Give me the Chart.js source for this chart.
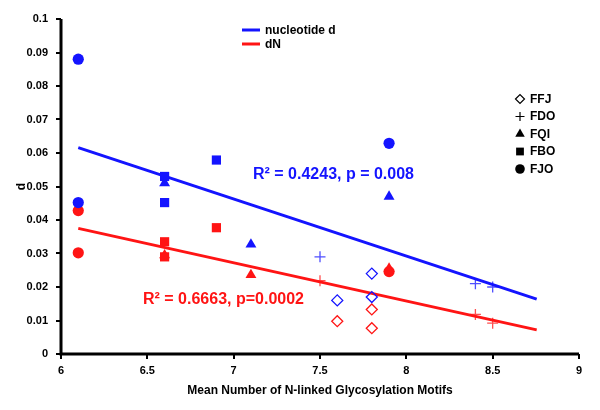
<!DOCTYPE html>
<html lang="en">
<head>
    <meta charset="UTF-8">
    <title>d and dN vs glycosylation motifs</title>
    <script src="https://cdn.jsdelivr.net/npm/chart.js"></script>
    <style>
        body { margin: 0; background: #fff; }
    </style>
</head>
<body>
    <canvas id="myChart" width="600" height="410"></canvas>

    <script>
        // values
        const species = ['FFJ', 'FDO', 'FQI', 'FBO', 'FJO'];
        const styles = ['rectRot', 'cross', 'triangle', 'rect', 'circle'];

        const xFFJ = [7.6, 7.8, 7.8];
        const dFFJ = [0.016, 0.024, 0.017];
        const dnFFJ = [0.0098, 0.0133, 0.0077];

        const xFDO = [7.5, 8.4, 8.5];
        const dFDO = [0.029, 0.021, 0.020];
        const dnFDO = [0.0219, 0.0118, 0.0092];

        const xFQI = [6.6, 7.1, 7.9];
        const dFQI = [0.051, 0.0327, 0.047];
        const dnFQI = [0.0295, 0.0236, 0.0255];

        const xFBO = [6.6, 6.6, 6.9];
        const dFBO = [0.053, 0.0452, 0.0579];
        const dnFBO = [0.0335, 0.029, 0.0377];

        const xFJO = [6.1, 6.1, 7.9];
        const dFJO = [0.088, 0.0452, 0.0629];
        const dnFJO = [0.0428, 0.0302, 0.0246];

        // regression lines (end points)
        const fitX = [6.1, 8.755];
        const fitD = [0.0616, 0.0164];
        const fitDN = [0.0375, 0.0072];

        const xTickLabels = ['6', '6.5', '7', '7.5', '8', '8.5', '9'];
        const yTickLabels = ['0', '0.01', '0.02', '0.03', '0.04', '0.05', '0.06', '0.07', '0.08', '0.09', '0.1'];

        const BLUE = 'rgb(20,20,255)';
        const RED = 'rgb(255,20,20)';
        const FONT = "'Liberation Sans', Arial, sans-serif";

        const xs = [xFFJ, xFDO, xFQI, xFBO, xFJO];
        const ds = [dFFJ, dFDO, dFQI, dFBO, dFJO];
        const dns = [dnFFJ, dnFDO, dnFQI, dnFBO, dnFJO];

        function pts(x, y) {
            return x.map((v, i) => ({ x: v, y: y[i] }));
        }

        function markerSet(label, style, data, color) {
            const open = style === 'rectRot' || style === 'cross';
            const sizes = { rectRot: 5.5, cross: 5.5, triangle: 6.3, rect: 6.5, circle: 5.6 };
            const c = style === 'cross' ? color.replace('rgb', 'rgba').replace(')', ',0.75)') : color;
            return {
                type: 'scatter',
                label: label,
                data: data,
                pointStyle: style,
                pointRadius: sizes[style],
                pointHoverRadius: sizes[style],
                backgroundColor: open ? 'rgba(255,255,255,0)' : c,
                borderColor: c,
                pointBorderWidth: open ? 1.3 : 0,
                showLine: false
            };
        }

        const datasets = [];
        for (let i = 0; i < species.length; i++) {
            datasets.push(markerSet(species[i] + ' d', styles[i], pts(xs[i], ds[i]), BLUE));
        }
        for (let i = 0; i < species.length; i++) {
            datasets.push(markerSet(species[i] + ' dN', styles[i], pts(xs[i], dns[i]), RED));
        }
        datasets.push({
            type: 'line', label: 'nucleotide d', data: pts(fitX, fitD),
            borderColor: BLUE, borderWidth: 3, pointRadius: 0, fill: false
        });
        datasets.push({
            type: 'line', label: 'dN', data: pts(fitX, fitDN),
            borderColor: RED, borderWidth: 3, pointRadius: 0, fill: false
        });

        // axes, legends and R2 labels
        const decor = {
            id: 'decor',
            afterDraw(chart) {
                const c = chart.ctx;
                const a = chart.chartArea;
                const sx = chart.scales.x, sy = chart.scales.y;
                c.save();

                // heavy black axes with short outward ticks
                c.strokeStyle = '#000';
                c.lineWidth = 3;
                c.beginPath();
                c.moveTo(a.left, a.top);
                c.lineTo(a.left, a.bottom);
                c.lineTo(a.right, a.bottom);
                c.stroke();
                c.lineWidth = 2;
                c.beginPath();
                sx.ticks.forEach(t => {
                    const px = Math.round(sx.getPixelForValue(t.value));
                    c.moveTo(px, a.bottom);
                    c.lineTo(px, a.bottom + 5);
                });
                sy.ticks.forEach(t => {
                    const py = Math.round(sy.getPixelForValue(t.value));
                    c.moveTo(a.left, py);
                    c.lineTo(a.left - 5, py);
                });
                c.stroke();

                c.textBaseline = 'middle';
                c.textAlign = 'left';

                // line legend at top
                const lines = [['nucleotide d', BLUE, 30], ['dN', RED, 44]];
                c.font = 'bold 12px ' + FONT;
                lines.forEach(l => {
                    c.strokeStyle = l[1];
                    c.lineWidth = 3;
                    c.beginPath();
                    c.moveTo(242, l[2]);
                    c.lineTo(260, l[2]);
                    c.stroke();
                    c.fillStyle = '#000';
                    c.fillText(l[0], 265, l[2] + 0.5);
                });

                // marker legend at right
                species.forEach((s, i) => {
                    const y = 99 + i * 17.5;
                    const open = styles[i] === 'rectRot' || styles[i] === 'cross';
                    c.fillStyle = open ? '#fff' : '#000';
                    c.strokeStyle = '#000';
                    c.lineWidth = open ? 1.2 : 0.01;
                    const r = { rectRot: 4.5, cross: 4.5, triangle: 5.5, rect: 5.5, circle: 4.8 }[styles[i]];
                    Chart.helpers.drawPoint(c, { pointStyle: styles[i], radius: r, rotation: 0, borderWidth: c.lineWidth }, 520, y);
                    c.fillStyle = '#000';
                    c.fillText(s, 530, y + 0.5);
                });

                // R2 labels
                c.font = 'bold 16px ' + FONT;
                c.fillStyle = BLUE;
                c.fillText('R\u00b2 = 0.4243, p = 0.008', 253, 175);
                c.fillStyle = RED;
                c.fillText('R\u00b2 = 0.6663, p=0.0002', 143, 300);
                c.restore();
            }
        };

        const tickFont = { family: FONT, size: 11, weight: 'bold' };

        const myChart = new Chart(document.getElementById('myChart'), {
            type: 'scatter',
            data: { datasets: datasets },
            options: {
                responsive: false,
                animation: false,
                layout: { autoPadding: false, padding: { left: 0, right: 21, top: 19, bottom: 0 } },
                plugins: {
                    legend: { display: false },
                    tooltip: { enabled: false }
                },
                scales: {
                    x: {
                        type: 'linear',
                        min: 6, max: 9,
                        afterFit: s => { s.height = 56; },
                        ticks: {
                            stepSize: 0.5,
                            color: '#000',
                            font: tickFont,
                            padding: 5,
                            callback: (v, i) => xTickLabels[i]
                        },
                        grid: { display: false, tickLength: 5 },
                        border: { display: false },
                        title: {
                            display: true,
                            text: 'Mean Number of N-linked Glycosylation Motifs',
                            color: '#000',
                            font: { family: FONT, size: 12, weight: 'bold' },
                            padding: { top: 0, bottom: 12 }
                        }
                    },
                    y: {
                        type: 'linear',
                        min: 0, max: 0.1,
                        afterFit: s => { s.width = 61; },
                        ticks: {
                            stepSize: 0.01,
                            color: '#000',
                            font: tickFont,
                            padding: 8,
                            callback: (v, i) => yTickLabels[i]
                        },
                        grid: { display: false, tickLength: 5 },
                        border: { display: false },
                        title: {
                            display: true,
                            text: 'd',
                            color: '#000',
                            font: { family: FONT, size: 12, weight: 'bold' },
                            padding: { top: 14, bottom: 0 }
                        }
                    }
                }
            },
            plugins: [decor]
        });
    </script>
</body>
</html>
